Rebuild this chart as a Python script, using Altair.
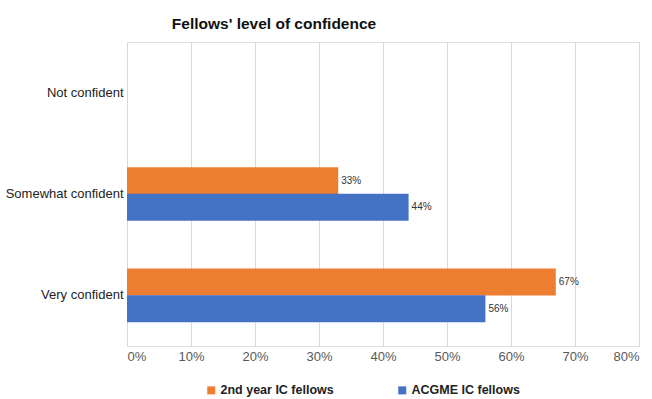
import altair as alt
import pandas as pd

categories = ["Not confident", "Somewhat confident", "Very confident"]
series = ["2nd year IC fellows", "ACGME IC fellows"]
second_year = [0, 33, 67]
acgme = [0, 44, 56]
x_ticks = [0, 10, 20, 30, 40, 50, 60, 70, 80]

rows = []
for c, a, b in zip(categories, second_year, acgme):
    rows.append({"category": c, "series": series[0], "value": a})
    rows.append({"category": c, "series": series[1], "value": b})
df = pd.DataFrame(rows)
df["label"] = df["value"].astype(int).astype(str) + "%"

FONT = "Liberation Sans"

y_enc = alt.Y("category:N", sort=categories, title=None,
              scale=alt.Scale(paddingInner=0.475, paddingOuter=0.2375),
              axis=alt.Axis(domain=False, ticks=False, grid=False, labelFont=FONT,
                            labelFontSize=13, labelColor="#222222", labelPadding=4))
yoff = alt.YOffset("series:N", sort=series)
x_enc = alt.X("value:Q", title=None,
              scale=alt.Scale(domain=[0, 80], nice=False),
              axis=alt.Axis(values=x_ticks, labelExpr="datum.value + '%'", domain=False,
                            ticks=False, grid=True, gridColor="#d9d9d9", gridWidth=1,
                            labelFont=FONT, labelFontSize=13, labelColor="#595959",
                            labelPadding=4))

bars = alt.Chart(df).mark_bar(size=27).encode(
    y=y_enc,
    yOffset=yoff,
    x=x_enc,
    color=alt.Color("series:N", sort=series,
                    scale=alt.Scale(domain=series, range=["#ED7D31", "#4472C4"]),
                    legend=alt.Legend(title=None, orient="none", direction="horizontal",
                                      legendX=78, legendY=342, symbolType="square",
                                      symbolSize=64, symbolStrokeWidth=0,
                                      labelFont=FONT, labelFontSize=12.5,
                                      labelFontWeight="bold", labelColor="#222222",
                                      columnPadding=62, labelOffset=3)),
)

labels = alt.Chart(df).transform_filter("datum.value > 0").mark_text(
    align="left", baseline="middle", dx=3, font=FONT, fontSize=10, color="#333333"
).encode(
    y=alt.Y("category:N", sort=categories),
    yOffset=yoff,
    x=alt.X("value:Q"),
    text="label:N",
)

chart = alt.layer(bars, labels).properties(
    width=512, height=304,
    autosize=alt.AutoSizeParams(type="none"),
    padding={"left": 127, "top": 42, "right": 13, "bottom": 53},
    title=alt.TitleParams("Fellows' level of confidence", font=FONT, fontSize=15.5,
                          fontWeight="bold", color="#111111", anchor="middle",
                          dx=-109, offset=10),
).configure_view(stroke=None).configure(background="white")

chart.save("out.html", embed_options={"renderer": "svg", "actions": False})
